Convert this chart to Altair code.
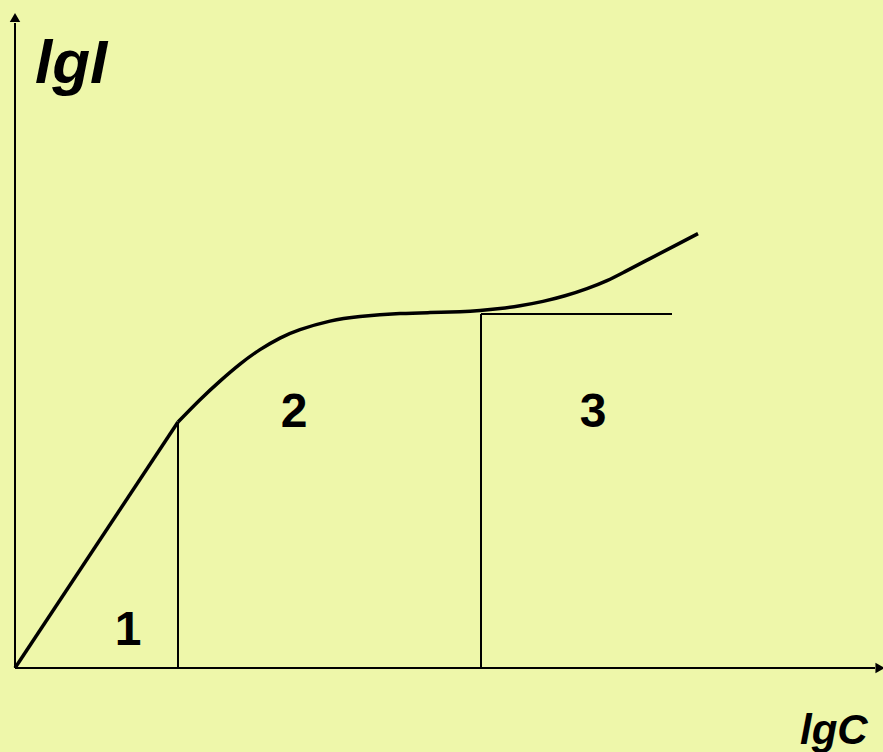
import altair as alt
import pandas as pd

# Adsorption-type curve: lgI versus lgC (arbitrary units)
lin_x = [0.0, 16.3]
lin_y = [0.0, 24.6]

curve_x = [16.3, 18.5, 20.5, 22.5, 24.5, 26.5, 28.5, 31.5, 34.5, 38.5, 41.5, 44.5,
           46.5, 48.5, 50.5, 52.8, 55.0, 57.2, 59.2, 61.0, 63.5, 66.0, 68.3]
curve_y = [24.6, 26.83, 28.69, 30.39, 31.84, 32.99, 33.84, 34.69, 35.14, 35.44, 35.54, 35.62,
           35.74, 35.94, 36.22, 36.66, 37.22, 37.94, 38.74, 39.64, 40.94, 42.24, 43.44]

# region boundaries and plateau level
bound_x = [16.3, 46.6]
bound_top = [24.6, 35.4]
plateau_y = 35.4
plateau_end = 65.7

region_labels = ["1", "2", "3"]
region_x = [11.3, 27.9, 57.8]
region_y = [2.3, 24.1, 24.1]

axis_x_end = 86.0
axis_y_end = 64.5

BG = "#EEF7AA"
FONT = "Liberation Sans"

xs = alt.Scale(domain=[-1.5, 86.8], nice=False, zero=False)
ys = alt.Scale(domain=[-8.4, 66.8], nice=False, zero=False)

lin_df = pd.DataFrame({"x": lin_x, "y": lin_y})
curve_df = pd.DataFrame({"x": curve_x, "y": curve_y})
bounds_df = pd.DataFrame({"x": bound_x, "y": [0.0, 0.0], "y2": bound_top})
plateau_df = pd.DataFrame({"x": [bound_x[1]], "x2": [plateau_end], "y": [plateau_y]})
axes_df = pd.DataFrame({"x": [0.0, 0.0], "y": [0.0, 0.0],
                        "x2": [axis_x_end, 0.0], "y2": [0.0, axis_y_end]})
labels_df = pd.DataFrame({"t": region_labels, "x": region_x, "y": region_y})
arrows_df = pd.DataFrame({"x": [86.5, 0.0], "y": [0.0, 65.05],
                          "shape": ["triangle-right", "triangle-up"]})
titles_df = pd.DataFrame({"t": ["lgI", "lgC"], "x": [2.0, 78.5], "y": [58.5, -7.6]})

X = lambda f="x": alt.X(f, type="quantitative", scale=xs, axis=None)
Y = lambda f="y": alt.Y(f, type="quantitative", scale=ys, axis=None)

axes = alt.Chart(axes_df).mark_rule(color="black", strokeWidth=2).encode(
    x=X(), y=Y(), x2="x2", y2="y2")

arrows = alt.Chart(arrows_df).mark_point(filled=True, color="black", size=110, opacity=1).encode(
    x=X(), y=Y(), shape=alt.Shape("shape:N", scale=None))

bounds = alt.Chart(bounds_df).mark_rule(color="black", strokeWidth=2).encode(
    x=X(), y=Y(), y2="y2")

plateau = alt.Chart(plateau_df).mark_rule(color="black", strokeWidth=2).encode(
    x=X(), x2="x2", y=Y())

lin = alt.Chart(lin_df).mark_line(color="black", strokeWidth=3.5).encode(
    x=X(), y=Y())

curve = alt.Chart(curve_df).mark_line(color="black", strokeWidth=3.5,
                                      interpolate="natural").encode(
    x=X(), y=Y(), order="x:Q")

labels = alt.Chart(labels_df).mark_text(font=FONT, fontSize=48, fontWeight="bold",
                                        align="center", baseline="alphabetic",
                                        color="black").encode(
    x=X(), y=Y(), text="t:N")

title_i = alt.Chart(titles_df.iloc[[0]]).mark_text(font=FONT, fontSize=62, fontWeight="bold",
                                                   fontStyle="italic", align="left",
                                                   baseline="alphabetic", color="black").encode(
    x=X(), y=Y(), text="t:N")
title_c = alt.Chart(titles_df.iloc[[1]]).mark_text(font=FONT, fontSize=42, fontWeight="bold",
                                                   fontStyle="italic", align="left",
                                                   baseline="alphabetic", color="black").encode(
    x=X(), y=Y(), text="t:N")

chart = alt.layer(axes, arrows, bounds, plateau, lin, curve, labels, title_i, title_c).properties(
    width=883, height=752, background=BG, padding=0,
    autosize=alt.AutoSizeParams(type="none"),
).configure_view(stroke=None)

chart.save("out.html", embed_options={"renderer": "svg", "actions": False})
